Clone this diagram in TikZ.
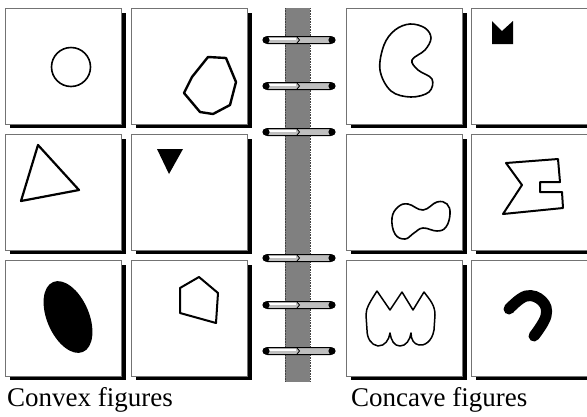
\documentclass[tikz,border=0pt]{standalone}
\usepackage{fontspec}
\setmainfont{Liberation Serif}
\begin{document}
\begin{tikzpicture}[x=1pt,y=-1pt,
  panel/.style={fill=white, draw=black!55, line width=0.6pt},
  shadow/.style={fill=black},
  outl/.style={draw=black, line width=2pt, line join=round},
  solid shape/.style={fill=black},
  caption/.style={font=\fontsize{27}{30}\selectfont, anchor=base west, inner sep=0pt},
  ringbar/.style={fill=black!25, draw=black, line width=1pt, rounded corners=3.5pt},
  spine/.style={fill=black!50, draw=black!70, line width=0.6pt, densely dotted}]
\useasboundingbox (0,0) rectangle (587,416);
\fill[white] (0,0) rectangle (587,416);
% panels
\foreach \x in {5,131,346,471}{
  \foreach \y in {8,134,260}{
    \fill[shadow] (\x+5,\y+5) rectangle (\x+121,\y+120);
    \draw[panel] (\x,\y) rectangle (\x+116,\y+116);
  }
}
% spine
\fill[black!50] (285,8) rectangle (310,382);
\draw[black!75, line width=0.6pt, densely dotted] (285,8) -- (285,382) (310,8) -- (310,382);
\foreach \y in {40,86,132,258,305,351}{
  \draw[ringbar] (264,\y-3.5) rectangle (334,\y+3.5);
  \draw[white, line width=1.2pt] (268,\y-1) -- (296,\y-1);
  \fill[black] (266,\y) circle (3.6);
  \fill[black] (332,\y) circle (3.6);
  \draw[black, line width=0.8pt] (297,\y-3) -- (299.5,\y) -- (297,\y+3);
}
% convex shapes
\draw[outl, line width=1.6pt] (71,67) circle (19.5);
\draw[outl, line width=2.4pt] (208,57) -- (226,58) -- (236,82) -- (230,105) -- (213,114) -- (200,112) -- (184,93) -- (192,77) -- cycle;
\draw[outl, line width=2.2pt] (38,145) -- (79,190) -- (21,201) -- cycle;
\fill[solid shape] (157,149) -- (183,149) -- (169,174) -- cycle;
\fill[solid shape, rotate around={-66.8:(68,317)}] (68,317) ellipse (38 and 21);
\draw[outl] (199,277) -- (218,293) -- (216,323) -- (180,313) -- (180,288) -- cycle;
% concave shapes
\draw[outl, line width=1.6pt] plot[smooth cycle, tension=0.6] coordinates {(410,24) (425,28) (431,38) (425,50) (412,60) (418,70) (432,79) (429,92) (411,97) (391,91) (380,70) (384,45) (395,30)};
\fill[solid shape] (492,21) -- (502,31) -- (513,21) -- (513,44) -- (492,44) -- cycle;
\draw[outl, line width=1.6pt] plot[smooth cycle, tension=0.7] coordinates {(392,218) (398,207) (408,204) (423,210) (437,202) (447,204) (450,214) (446,227) (437,231) (423,228) (414,233) (405,239) (395,234)};
\draw[outl] (506,163) -- (558,159) -- (560,182) -- (540,182) -- (540,192) -- (562,192) -- (563,208) -- (503,214) -- (522,185) -- cycle;
\draw[outl, line width=1.5pt] (377,291) -- (390,310) -- (402,292) -- (413,310) -- (424,292)
  .. controls (430,300) and (435,305) .. (435,315) -- (434,330)
  .. controls (432,342) and (424,346) .. (419,345)
  .. controls (414,344) and (411,340) .. (411,333)
  .. controls (410,340) and (406,346) .. (400,346)
  .. controls (394,346) and (391,340) .. (390,333)
  .. controls (389,340) and (385,346) .. (378,346)
  .. controls (371,345) and (367,338) .. (367,330) -- (366,315)
  .. controls (366,308) and (370,302) .. cycle;
\draw[black, line width=11pt, line cap=round] plot[smooth, tension=0.7] coordinates {(509,309) (526,296) (542,301) (546,316) (534,336)};
% captions
\node[caption] (convex) at (7,406) {Convex figures};
\node[caption] (concave) at (351,406) {Concave figures};
\end{tikzpicture}
\end{document}
